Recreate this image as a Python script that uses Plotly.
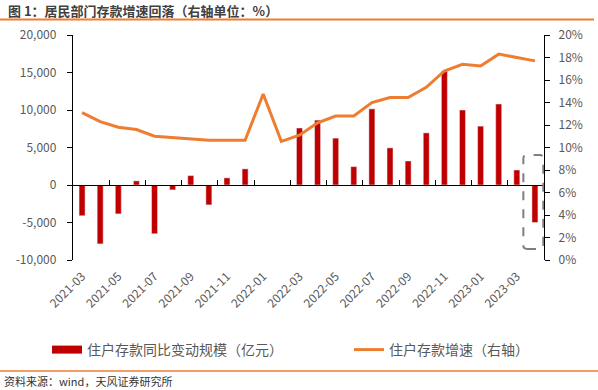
import plotly.graph_objects as go

# ---------------- data ----------------
months = ["2021-03", "2021-04", "2021-05", "2021-06", "2021-07", "2021-08", "2021-09",
          "2021-10", "2021-11", "2021-12", "2022-01", "2022-02", "2022-03", "2022-04",
          "2022-05", "2022-06", "2022-07", "2022-08", "2022-09", "2022-10", "2022-11",
          "2022-12", "2023-01", "2023-02", "2023-03", "2023-04"]
deposit_change = [-4100, -7850, -3850, 550, -6500, -650, 1250, -2650, 950, 2150,
                  None, None, 7600, 8650, 6250, 2450, 10150, 4950, 3200, 6950,
                  15200, 10000, 7850, 10800, 2000, -5000]
deposit_growth = [13.1, 12.3, 11.8, 11.6, 11.0, 10.9, 10.75, 10.65, 10.65, 10.65,
                  14.75, 10.55, 11.1, 12.2, 12.8, 12.8, 14.0, 14.45, 14.45, 15.35,
                  16.8, 17.4, 17.25, 18.3, 18.0, 17.7]
left_ticks = [-10000, -5000, 0, 5000, 10000, 15000, 20000]
left_ticktext = ["-10,000", "-5,000", "0", "5,000", "10,000", "15,000", "20,000"]
right_ticks = [0, 2, 4, 6, 8, 10, 12, 14, 16, 18, 20]
right_ticktext = ["0%", "2%", "4%", "6%", "8%", "10%", "12%", "14%", "16%", "18%", "20%"]

bar_name = "住户存款同比变动规模（亿元）"
line_name = "住户存款增速（右轴）"
title_text = "图 1：居民部门存款增速回落（右轴单位：%）"
source_text = "资料来源：wind，天风证券研究所"

# ---------------- style ----------------
RED = "#C00000"
ORANGE = "#ED7D31"
GRAY = "#595959"
FONT = "Noto Sans CJK SC"
W, H = 598, 390
ML, MR, MT, MB = 73, 54, 35, 130
PW, PH = W - ML - MR, H - MT - MB

def px_x(px):
    return (px - ML) / PW

def px_y(py):
    return (H - MB - py) / PH

n = len(months)

fig = go.Figure()
fig.add_trace(go.Bar(x=months, y=deposit_change, marker_color=RED, name=bar_name,
                     showlegend=False, xaxis="x", yaxis="y"))
fig.add_trace(go.Scatter(x=months, y=deposit_growth, mode="lines", name=line_name,
                         line=dict(color=ORANGE, width=3), xaxis="x", yaxis="y2",
                         showlegend=False))
# legend entries
fig.add_trace(go.Scatter(x=[None], y=[None], mode="lines", name=bar_name,
                         line=dict(color=RED, width=8), xaxis="x", yaxis="y",
                         legend="legend"))
fig.add_trace(go.Scatter(x=[None], y=[None], mode="lines", name=line_name,
                         line=dict(color=ORANGE, width=3), xaxis="x", yaxis="y2",
                         legend="legend2"))

axis_font = dict(family=FONT, size=12, color=GRAY)
legend_common = dict(orientation="h", xanchor="left", y=px_y(334), yanchor="top",
                     font=dict(family=FONT, size=14, color=GRAY),
                     bgcolor="rgba(0,0,0,0)", itemwidth=30, borderwidth=0)

fig.update_layout(
    width=W, height=H,
    margin=dict(l=ML, r=MR, t=MT, b=MB, pad=0, autoexpand=False),
    paper_bgcolor="white", plot_bgcolor="white",
    bargap=0.67,
    showlegend=True,
    legend=dict(x=px_x(47), **legend_common),
    legend2=dict(x=px_x(349), **legend_common),
    title=dict(text=title_text, x=8 / W, xanchor="left", xref="container",
               y=1 - 11 / H, yanchor="middle", yref="container",
               font=dict(family=FONT, size=13, color="#404040", weight="bold")),
    xaxis=dict(type="category", range=[-0.5, n - 0.5], tickvals=months[::2],
               ticktext=months[::2], tickangle=-45, tickfont=axis_font,
               showline=False, ticks="", showgrid=False, zeroline=False,
               ticklabelstandoff=6, automargin=False),
    xaxis2=dict(type="linear", overlaying="x", anchor="free", position=1 / 3,
                range=[-0.5, n - 0.5], tickvals=[i + 1.5 for i in range(0, n - 2, 2)],
                showticklabels=False, ticks="inside", ticklen=5, tickcolor="black",
                tickwidth=1.3, showline=True, linecolor="black", linewidth=1.3,
                showgrid=False, zeroline=False, automargin=False),
    yaxis=dict(range=[-10000, 20000], tickvals=left_ticks, ticktext=left_ticktext,
               tickfont=axis_font, showline=True, linecolor="black", linewidth=1.3,
               ticks="outside", ticklen=5, tickcolor="black", tickwidth=1.3,
               ticklabelstandoff=8, showgrid=False, zeroline=False, automargin=False),
    yaxis2=dict(range=[0, 20], overlaying="y", side="right", tickvals=right_ticks,
                ticktext=right_ticktext, tickfont=axis_font, showline=True,
                linecolor="black", linewidth=1.3, ticks="outside", ticklen=5,
                tickcolor="black", tickwidth=1.3, ticklabelstandoff=6,
                showgrid=False, zeroline=False, automargin=False),
)

# dashed highlight box around the last month
bx0, bx1 = n - 1 - 0.64, n - 1 + 0.46
by0, by1 = 0.98, 9.33
rx, ry = 0.2, 0.3
path = (f"M {bx0 + rx} {by0} L {bx1 - rx} {by0} Q {bx1} {by0} {bx1} {by0 + ry} "
        f"L {bx1} {by1 - ry} Q {bx1} {by1} {bx1 - rx} {by1} "
        f"L {bx0 + rx} {by1} Q {bx0} {by1} {bx0} {by1 - ry} "
        f"L {bx0} {by0 + ry} Q {bx0} {by0} {bx0 + rx} {by0} Z")
fig.add_shape(type="path", path=path, xref="x2", yref="y2",
              line=dict(color="#7F7F7F", width=2, dash="dash"))

# orange rules under title and above source (drawn in pixel units of the page)
fig.add_shape(type="line", xref="paper", yref="paper", x0=px_x(0), x1=px_x(594),
              y0=px_y(19.5), y1=px_y(19.5), line=dict(color=ORANGE, width=2))
fig.add_shape(type="line", xref="paper", yref="paper", x0=px_x(0), x1=px_x(W),
              y0=px_y(371), y1=px_y(371), line=dict(color=ORANGE, width=1.5))

fig.add_annotation(text=source_text, xref="paper", yref="paper", x=px_x(2), y=px_y(381),
                   xanchor="left", yanchor="middle", showarrow=False,
                   font=dict(family=FONT, size=11, color="#333333"))

fig.write_html("out.html", config={"displayModeBar": False},
               post_script="document.body.style.margin='0';document.body.style.overflow='hidden';")
